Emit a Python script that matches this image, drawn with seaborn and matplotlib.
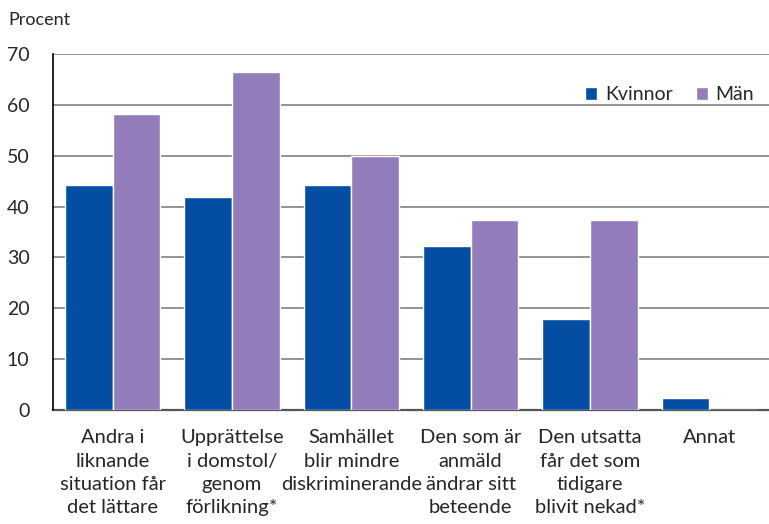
import matplotlib
matplotlib.use('Agg')
import matplotlib.pyplot as plt
import numpy as np
import pandas as pd
import seaborn as sns

categories = ['Andra i\nliknande\nsituation får\ndet lättare',
              'Upprättelse\ni domstol/\ngenom\nförlikning*',
              'Samhället\nblir mindre\ndiskriminerande',
              'Den som är\nanmäld\nändrar sitt\nbeteende',
              'Den utsatta\nfår det som\ntidigare\nblivit nekad*',
              'Annat']
kvinnor = [44.2, 41.9, 44.2, 32.2, 17.9, 2.4]
man = [58.2, 66.5, 49.9, 37.4, 37.4, 0.0]
series = ['Kvinnor', 'Män']
colors = ['#034ea2', '#927cb9']

df = pd.DataFrame({
    'kategori': categories * 2,
    'kon': [series[0]] * len(categories) + [series[1]] * len(categories),
    'procent': kvinnor + man,
})

sns.set_style('white')
plt.rcParams['font.family'] = ['Lato', 'DejaVu Sans']

fig = plt.figure(figsize=(7.69, 5.24), dpi=100)
ax = fig.add_axes([53/769, 1 - 410/524, 1 - 53/769, 356/524])

sns.barplot(data=df, x='kategori', y='procent', hue='kon', palette=colors,
            saturation=1, width=0.8, edgecolor='white', linewidth=1.0, ax=ax, zorder=3)

ax.set_ylim(0, 70)
ax.set_xlim(-0.5, 5.5)
ax.set_yticks(np.arange(0, 71, 10))
ax.yaxis.grid(True, color='#8a8a8a', linewidth=1.3, zorder=0)
ax.set_axisbelow(True)
for s in ['top', 'right']:
    ax.spines[s].set_visible(False)
ax.spines['left'].set_color('black')
ax.spines['left'].set_linewidth(1.2)
ax.spines['left'].set_zorder(5)
ax.spines['bottom'].set_color('#555555')
ax.spines['bottom'].set_linewidth(1.6)
ax.tick_params(axis='y', length=6, width=1.2, color='black', labelsize=14, pad=11)
ax.tick_params(axis='x', length=0, labelsize=14.5, pad=14)
for lab in ax.get_xticklabels():
    lab.set_linespacing(1.45)
ax.set_xlabel('')
ax.set_ylabel('')

ax.legend(loc='center right', bbox_to_anchor=(0.99, 0.885), ncol=2, frameon=False,
          fontsize=14, handlelength=0.6, handleheight=0.6, handletextpad=0.4,
          columnspacing=1.2, borderaxespad=0)

fig.text(8/769, 1 - 20/524, 'Procent', fontsize=13, va='center', ha='left')

fig.savefig('out.png', dpi=100)
